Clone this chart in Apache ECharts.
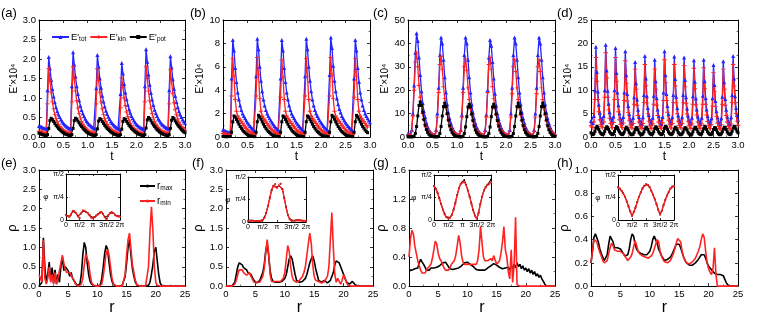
<!DOCTYPE html>
<html><head><meta charset="utf-8">
<script src="https://cdn.jsdelivr.net/npm/echarts@6/dist/echarts.min.js"></script>
<style>html,body{margin:0;padding:0;background:#fff}#c{width:764px;height:317px}</style>
</head><body><div id="c"></div>
<script>
// ---------- DATA ----------
const tStepABC = 0.025, tStepD = 0.02, rStep = 0.25, phiStep = 0.125;
const piLabelsX = ['0', 'π/2', 'π', '3π/2', '2π'];
const piLabelsY = ['0', 'π/4', 'π/2'];
const panelLabels = ['(a)', '(b)', '(c)', '(d)', '(e)', '(f)', '(g)', '(h)'];

const aTot = [0.28,0.27,0.26,0.24,0.23,0.22,0.21,1.2,2.05,1.76,1.47,1.23,1.04,0.89,0.76,0.66,0.58,0.51,0.45,0.4,0.35,0.32,0.29,0.26,0.24,0.22,0.21,
1.3,2.17,1.86,1.55,1.3,1.1,0.94,0.8,0.69,0.6,0.53,0.47,0.41,0.37,0.33,0.3,0.27,0.25,0.23,0.21,
1.25,2.1,1.8,1.5,1.26,1.06,0.91,0.78,0.67,0.59,0.52,0.46,0.4,0.36,0.32,0.29,0.26,0.24,0.22,0.2,
1.1,1.9,1.63,1.36,1.14,0.97,0.83,0.71,0.62,0.54,0.48,0.42,0.37,0.33,0.3,0.27,0.25,0.23,0.21,0.2,
1.3,2.25,1.93,1.6,1.34,1.13,0.96,0.82,0.7,0.61,0.54,0.47,0.42,0.37,0.33,0.3,0.27,0.25,0.23,0.21,
1.2,2.07,1.78,1.48,1.24,1.05,0.9,0.77,0.66,0.58,0.51,0.45,0.4,0.35];
const aKin = [0.15,0.14,0.13,0.12,0.11,0.1,0.09,0.85,1.75,1.45,1.15,0.9,0.72,0.58,0.47,0.39,0.32,0.27,0.23,0.2,0.17,0.15,0.13,0.12,0.11,0.1,0.09,
0.9,1.8,1.5,1.18,0.93,0.74,0.6,0.49,0.4,0.33,0.28,0.24,0.2,0.17,0.15,0.13,0.12,0.11,0.1,0.09,
0.85,1.75,1.45,1.15,0.9,0.72,0.58,0.47,0.39,0.32,0.27,0.23,0.2,0.17,0.15,0.13,0.12,0.11,0.1,0.09,
0.75,1.52,1.27,1.0,0.8,0.64,0.52,0.43,0.35,0.29,0.25,0.21,0.18,0.16,0.14,0.12,0.11,0.1,0.09,0.08,
0.9,1.8,1.5,1.18,0.93,0.74,0.6,0.49,0.4,0.33,0.28,0.24,0.2,0.17,0.15,0.13,0.12,0.11,0.1,0.09,
0.85,1.72,1.42,1.12,0.88,0.7,0.57,0.46,0.38,0.32,0.27,0.23,0.2,0.17];
const aPot = [0.1,0.09,0.07,0.06,0.05,0.04,0.04,0.06,0.22,0.42,0.48,0.45,0.4,0.35,0.3,0.26,0.22,0.19,0.16,0.13,0.11,0.09,0.07,0.06,0.05,0.04,0.04,
0.06,0.22,0.42,0.48,0.46,0.41,0.36,0.31,0.27,0.23,0.19,0.16,0.13,0.11,0.09,0.07,0.06,0.05,0.04,0.04,
0.06,0.21,0.41,0.47,0.45,0.4,0.35,0.3,0.26,0.22,0.19,0.16,0.13,0.11,0.09,0.07,0.06,0.05,0.04,0.04,
0.06,0.2,0.4,0.47,0.45,0.4,0.35,0.3,0.26,0.22,0.19,0.16,0.13,0.11,0.09,0.07,0.06,0.05,0.04,0.04,
0.06,0.23,0.44,0.5,0.47,0.42,0.36,0.31,0.27,0.23,0.19,0.16,0.13,0.11,0.09,0.07,0.06,0.05,0.04,0.04,
0.06,0.22,0.43,0.5,0.47,0.41,0.36,0.31,0.27,0.23,0.19,0.16,0.13,0.11];

const bTot = [0.6,0.55,0.5,0.45,0.42,0.4,0.4,5.0,8.3,7.4,5.9,4.7,3.8,3.2,2.7,2.3,2.0,1.8,1.6,1.4,1.25,1.1,0.95,0.82,0.7,0.6,0.5,
5.2,8.4,7.5,6.0,4.8,3.9,3.2,2.7,2.3,2.0,1.8,1.6,1.4,1.25,1.1,0.95,0.82,0.7,0.6,0.5,
5.0,8.3,7.4,5.9,4.7,3.8,3.2,2.7,2.3,2.0,1.8,1.6,1.4,1.25,1.1,0.95,0.82,0.7,0.6,0.5,
5.2,8.4,7.5,6.0,4.8,3.9,3.2,2.7,2.3,2.0,1.8,1.6,1.4,1.25,1.1,0.95,0.82,0.7,0.6,0.5,
5.3,8.5,7.6,6.1,4.8,3.9,3.3,2.8,2.4,2.1,1.8,1.6,1.4,1.25,1.1,0.95,0.82,0.7,0.6,0.5,
5.0,8.3,7.4,5.9,4.7,3.8,3.2,2.7,2.3,2.0,1.8,1.6,1.4,1.25];
const bKin = [0.3,0.27,0.24,0.21,0.19,0.17,0.2,3.5,6.7,5.2,3.2,2.2,1.8,1.6,1.45,1.3,1.15,1.0,0.85,0.72,0.6,0.5,0.42,0.35,0.3,0.25,0.22,
3.5,6.8,5.3,3.3,2.2,1.8,1.6,1.45,1.3,1.15,1.0,0.85,0.72,0.6,0.5,0.42,0.35,0.3,0.25,0.22,
3.4,6.6,5.1,3.2,2.2,1.8,1.6,1.45,1.3,1.15,1.0,0.85,0.72,0.6,0.5,0.42,0.35,0.3,0.25,0.22,
3.5,6.7,5.2,3.2,2.2,1.8,1.6,1.45,1.3,1.15,1.0,0.85,0.72,0.6,0.5,0.42,0.35,0.3,0.25,0.22,
3.5,6.8,5.3,3.3,2.2,1.8,1.6,1.45,1.3,1.15,1.0,0.85,0.72,0.6,0.5,0.42,0.35,0.3,0.25,0.22,
3.4,6.7,5.2,3.2,2.2,1.8,1.6,1.45,1.3,1.15,1.0,0.85];
const bPot = [0.05,0.04,0.03,0.03,0.03,0.04,0.05,0.4,1.3,1.8,1.7,1.5,1.3,1.1,0.9,0.75,0.6,0.47,0.37,0.28,0.2,0.14,0.1,0.07,0.05,0.04,0.03,
0.4,1.3,1.85,1.72,1.52,1.3,1.1,0.9,0.75,0.6,0.47,0.37,0.28,0.2,0.14,0.1,0.07,0.05,0.04,0.03,
0.4,1.3,1.8,1.7,1.5,1.3,1.1,0.9,0.75,0.6,0.47,0.37,0.28,0.2,0.14,0.1,0.07,0.05,0.04,0.03,
0.4,1.3,1.8,1.7,1.5,1.3,1.1,0.9,0.75,0.6,0.47,0.37,0.28,0.2,0.14,0.1,0.07,0.05,0.04,0.03,
0.4,1.3,1.85,1.72,1.52,1.3,1.1,0.9,0.75,0.6,0.47,0.37,0.28,0.2,0.14,0.1,0.07,0.05,0.04,0.03,
0.4,1.3,1.85,1.72,1.52,1.3,1.1,0.9,0.75,0.6,0.47,0.37];

const cTot = [1.5,1.2,1.3,3,10,22,36,44.3,41,34,26.5,19.5,14.5,11,8.5,6.2,4.5,3.2,2.3,1.7,1.3,1.0,0.9,
3,10,21,35,42.5,40,33,25.5,19,14,10.5,8,6,4.3,3.1,2.2,1.6,1.2,1.0,0.9,
3,9.5,21,35,42.5,40,33,25.5,19,14,10.5,8,6,4.3,3.1,2.2,1.6,1.2,1.0,0.9,
3,9.5,20,34,41.5,39,32,25,18.5,13.5,10,7.8,5.8,4.2,3.0,2.1,1.5,1.2,1.0,0.9,
3,10,21,35,42.5,40,33,25.5,19,14,10.5,8,6,4.3,3.1,2.2,1.6,1.2,1.0,0.9,
3,10,21,35,42.5,40,33,25.5,19,14,10.5,8,6,4.3,3.1,2.2,1.6,1.2];
const cKin = [0.8,0.6,0.7,2.5,9,20,32,36,30,22,17,13,10,7.5,5.5,4,3,2.2,1.6,1.2,0.9,0.7,0.6,
2.5,8.5,19,31,34.5,29,21.5,16.5,12.5,9.7,7.3,5.4,4,3,2.2,1.6,1.2,0.9,0.7,0.6,
2.5,8.5,19,30,33.5,28.5,21,16,12,9.5,7.2,5.3,3.9,2.9,2.1,1.6,1.2,0.9,0.7,0.6,
2.5,8.5,19,31,34,29,21.5,16.5,12.5,9.6,7.3,5.4,4,3,2.2,1.6,1.2,0.9,0.7,0.6,
2.5,8.5,18.5,30,33,28,21,16,12,9.4,7.1,5.3,3.9,2.9,2.1,1.6,1.2,0.9,0.7,0.6,
2.5,8.5,18.5,30,33,28,21,16,12,9.4,7.1,5.3,3.9,2.9,2.1,1.6,1.2,0.9];
const cPot = [0.1,0.1,0.1,0.1,0.1,0.3,1.5,4.5,9,13.5,15,13.5,10.5,7.5,5,3.2,2,1.2,0.7,0.4,0.25,0.15,0.1,
0.1,0.1,0.3,1.5,4.5,9,13,14.5,13,10,7.2,4.8,3.1,1.9,1.2,0.7,0.4,0.25,0.15,0.1,
0.1,0.1,0.3,1.5,4.3,8.7,12.8,14,12.8,9.8,7,4.7,3,1.9,1.2,0.7,0.4,0.25,0.15,0.1,
0.1,0.1,0.3,1.5,4.3,8.7,12.8,14,12.8,9.8,7,4.7,3,1.9,1.2,0.7,0.4,0.25,0.15,0.1,
0.1,0.1,0.3,1.5,4.5,9,13,14.5,13,10,7.2,4.8,3.1,1.9,1.2,0.7,0.4,0.25,0.15,0.1,
0.1,0.1,0.3,1.5,4.5,9,13,14.5,13,10,7.2,4.8,3.1,1.9,1.2,0.7,0.4,0.25];

const dTot = [3.4,
3.1,3.0,4.5,10,19.3,13.9,9.7,6.9,5.2,4.0,
3.3,3.1,4.5,10,19.7,14.2,9.9,7.1,5.3,4.1,
3.3,3.1,4.4,10,19.0,13.7,9.5,6.8,5.1,4.0,
3.2,3.0,4.3,9.5,18.3,13.2,9.2,6.6,4.9,3.8,
3.1,2.9,4.1,8.5,16.0,11.5,8.0,5.8,4.3,3.4,
2.9,2.8,4.2,9,17.3,12.5,8.7,6.2,4.7,3.7,
3.0,2.9,4.1,8.8,16.5,11.9,8.3,5.9,4.5,3.5,
2.9,2.8,4.3,9.5,18.3,13.2,9.2,6.6,4.9,3.8,
3.1,3.0,4.2,9,17.2,12.4,8.6,6.2,4.6,3.6,
3.0,2.9,4.2,9,17.0,12.2,8.5,6.1,4.6,3.6,
3.0,2.9,4.1,8.7,16.4,11.8,8.2,5.9,4.4,3.5,
2.9,2.8,4.1,8.8,16.5,11.9,8.3,5.9,4.5,3.5,
2.9,2.8,4.0,8.3,15.4,11.1,7.7,5.5,4.2,3.3,
2.8,2.7,4.0,8.6,16.2,11.7,8.1,5.8,4.4,3.4,
2.8,2.7,4.2,9,17.3,12.5,8.7,6.2,4.7,3.7];
const dKin = [2.4,
2.1,2.0,3.2,8,17.0,11.9,8.0,5.4,3.7,2.7,
2.2,2.0,3.2,8.5,18.0,12.6,8.5,5.8,4.0,2.9,
2.1,2.0,3.1,8,17.0,11.9,8.0,5.4,3.7,2.7,
2.1,2.0,3.0,7.8,16.3,11.4,7.7,5.2,3.6,2.6,
2.0,1.9,2.9,7,14.5,10.2,6.8,4.6,3.2,2.3,
1.9,1.8,2.9,7.4,15.5,10.9,7.3,5.0,3.4,2.5,
1.9,1.8,2.8,7,14.5,10.2,6.8,4.6,3.2,2.3,
1.9,1.8,3.0,7.8,16.5,11.6,7.8,5.3,3.6,2.6,
2.0,1.9,2.9,7.4,15.5,10.9,7.3,5.0,3.4,2.5,
2.0,1.9,2.9,7.3,15.3,10.7,7.2,4.9,3.4,2.5,
1.9,1.8,2.8,7,14.7,10.3,6.9,4.7,3.2,2.4,
1.9,1.8,2.8,7,14.8,10.4,7.0,4.7,3.3,2.4,
1.9,1.8,2.7,6.6,13.8,9.7,6.5,4.4,3.0,2.2,
1.8,1.7,2.7,7,14.5,10.2,6.8,4.6,3.2,2.3,
1.8,1.7,2.8,7.4,15.5,10.9,7.3,5.0,3.4,2.5];
const dPot = [0.9,
0.6,0.5,0.7,1.2,1.9,2.3,2.1,1.6,1.1,0.8,
0.6,0.5,0.7,1.2,1.8,2.2,2.0,1.6,1.1,0.8,
0.6,0.5,0.7,1.2,1.8,2.2,2.0,1.5,1.1,0.8,
0.6,0.5,0.7,1.1,1.7,2.1,1.9,1.5,1.0,0.7,
0.5,0.5,0.6,1.0,1.6,2.0,1.9,1.5,1.0,0.7,
0.5,0.5,0.7,1.1,1.7,2.1,2.0,1.6,1.1,0.8,
0.6,0.5,0.7,1.1,1.8,2.2,2.0,1.6,1.1,0.8,
0.6,0.5,0.7,1.2,1.9,2.3,2.1,1.6,1.1,0.8,
0.6,0.5,0.7,1.1,1.7,2.1,1.9,1.5,1.0,0.7,
0.5,0.5,0.7,1.1,1.7,2.0,1.9,1.5,1.0,0.7,
0.5,0.4,0.6,1.1,1.7,2.1,2.0,1.6,1.1,0.8,
0.6,0.5,0.7,1.2,1.8,2.3,2.1,1.6,1.1,0.8,
0.6,0.5,0.6,1.0,1.6,2.0,1.9,1.5,1.0,0.7,
0.5,0.5,0.7,1.1,1.7,2.1,2.0,1.6,1.1,0.8,
0.6,0.5,0.7,1.2,1.9,2.3,2.2,1.7,1.2,0.9];

const eMax = [0,0,0.1,1.25,0.5,0.08,0.3,0.62,0.15,0.48,
0.08,0.42,0.05,0.3,0.1,0.5,0.75,0.4,0.5,0.45,
0.4,0.25,0.35,0.2,0.22,0.08,0.02,0,0.05,0.3,
0.8,1.13,1.0,0.6,0.3,0.12,0.05,0.02,0,0,
0,0.01,0.03,0.2,0.5,0.85,1.05,0.95,0.6,0.3,
0.12,0.04,0,0,0,0,0,0.02,0.05,0.25,
0.6,1.0,1.2,0.8,0.45,0.25,0.1,0.03,0,0,
0,0,0,0,0,0.02,0.1,0.3,0.55,0.9,
1.0,0.65,0.3,0.08,0.02,0,0,0,0,0,
0,0,0,0,0,0,0,0,0,0,0];
const eMin = [0.3,0.32,0.1,1.2,0.2,0.05,0.2,0.5,0.1,0.3,
0.05,0.35,0.05,0.2,0.15,0.6,0.8,0.6,0.42,0.35,
0.3,0.35,0.28,0.25,0.15,0.05,0.02,0,0,0.05,
0.2,0.55,0.82,0.85,0.6,0.3,0.1,0.03,0,0,
0,0,0,0.05,0.25,0.55,0.85,0.95,0.8,0.5,
0.2,0.06,0.01,0,0,0,0,0,0.03,0.3,
0.8,1.2,1.37,0.95,0.55,0.35,0.15,0.04,0,0,
0,0,0,0,0.05,0.5,1.4,2.05,1.45,0.5,
0.1,0.02,0,0,0,0,0,0,0,0,
0,0,0,0,0,0,0,0,0,0,0];
const fMax = [0,0,0,0,0,0.02,0.1,0.3,0.5,0.6,
0.62,0.55,0.48,0.45,0.42,0.35,0.3,0.3,0.22,0.15,
0.1,0.08,0.1,0.15,0.25,0.35,0.55,0.9,1.1,0.8,
0.4,0.2,0.12,0.1,0.1,0.1,0.1,0.1,0.12,0.15,
0.2,0.3,0.5,0.7,0.78,0.7,0.5,0.3,0.15,0.12,
0.1,0.1,0.12,0.15,0.2,0.3,0.45,0.6,0.7,0.78,
0.65,0.45,0.3,0.15,0.1,0.1,0.12,0.15,0.1,0.08,
0.1,0.15,0.25,0.35,0.55,0.65,0.65,0.6,0.5,0.4,
0.3,0.2,0.1,0.05,0.05,0.1,0.12,0.08,0.03,0.01,
0,0,0,0,0,0,0,0,0,0,0];
const fMin = [0,0,0,0,0,0.01,0.05,0.15,0.3,0.42,
0.45,0.42,0.35,0.3,0.28,0.3,0.35,0.25,0.2,0.1,
0.08,0.1,0.08,0.1,0.15,0.25,0.45,0.85,1.2,0.85,
0.3,0.12,0.1,0.12,0.1,0.12,0.1,0.12,0.15,0.2,
0.35,0.7,1.05,0.9,0.5,0.25,0.15,0.12,0.1,0.12,
0.15,0.2,0.25,0.35,0.5,0.8,1.1,1.37,1.1,0.55,
0.25,0.15,0.1,0.12,0.1,0.08,0.1,0.12,0.15,0.25,
0.5,1.2,1.9,1.0,0.3,0.1,0.2,0.25,0.05,0.15,
0.3,0.35,0.1,0.02,0,0,0,0,0,0,
0,0,0,0,0,0,0,0,0,0,0];
const gMax = [0.22,0.2,0.22,0.21,0.24,0.22,0.25,0.32,0.37,0.33,
0.3,0.26,0.22,0.24,0.22,0.25,0.23,0.25,0.24,0.26,
0.25,0.28,0.3,0.32,0.34,0.33,0.3,0.27,0.24,0.25,
0.23,0.25,0.24,0.26,0.25,0.27,0.28,0.3,0.32,0.33,
0.33,0.31,0.3,0.28,0.27,0.25,0.23,0.22,0.22,0.23,
0.22,0.24,0.22,0.24,0.25,0.27,0.28,0.3,0.31,0.3,
0.29,0.27,0.26,0.25,0.24,0.22,0.25,0.23,0.26,0.22,
0.28,0.24,0.3,0.25,0.32,0.27,0.3,0.24,0.28,0.22,
0.25,0.2,0.24,0.18,0.22,0.16,0.2,0.14,0.17,0.12,
0.15,0.1,0.08,0.03,0,0,0,0,0,0,0];
const gMin = [0.4,0.65,0.77,0.72,0.55,0.45,0.35,0.28,0.22,0.18,
0.16,0.18,0.22,0.25,0.27,0.3,0.38,0.5,0.62,0.58,
0.45,0.38,0.35,0.3,0.25,0.22,0.2,0.22,0.25,0.3,
0.32,0.35,0.42,0.55,0.7,0.6,0.42,0.33,0.3,0.28,
0.3,0.3,0.3,0.28,0.3,0.28,0.3,0.35,0.5,0.82,
0.6,0.4,0.35,0.33,0.35,0.33,0.38,0.35,0.42,0.4,
0.3,0.3,0.35,0.45,0.6,0.82,0.5,0.4,0.2,0.1,
0.5,0.05,0.3,0.95,0.02,0,0,0,0,0,
0,0,0,0,0,0,0,0,0,0,
0,0,0,0,0,0,0,0,0,0,0];
const hMax = [0.2,0.3,0.42,0.45,0.44,0.38,0.32,0.28,0.25,0.22,
0.22,0.27,0.36,0.43,0.44,0.38,0.33,0.32,0.33,0.33,
0.32,0.3,0.28,0.26,0.25,0.27,0.32,0.4,0.45,0.43,
0.36,0.32,0.3,0.29,0.28,0.27,0.27,0.26,0.27,0.28,
0.3,0.34,0.4,0.43,0.42,0.37,0.32,0.29,0.26,0.24,
0.22,0.22,0.23,0.24,0.25,0.27,0.3,0.33,0.36,0.37,
0.36,0.33,0.29,0.25,0.22,0.2,0.19,0.18,0.18,0.18,
0.19,0.2,0.21,0.23,0.25,0.27,0.28,0.27,0.24,0.2,
0.17,0.16,0.14,0.13,0.11,0.12,0.1,0.1,0.1,0.1,
0.09,0.06,0.03,0.01,0,0,0,0,0,0,0];
const hMin = [0.2,0.3,0.4,0.41,0.38,0.33,0.29,0.26,0.22,0.2,
0.2,0.22,0.28,0.33,0.37,0.35,0.31,0.3,0.3,0.31,
0.3,0.29,0.28,0.26,0.24,0.22,0.23,0.25,0.28,0.34,
0.39,0.35,0.3,0.28,0.27,0.26,0.25,0.25,0.24,0.24,
0.25,0.26,0.28,0.32,0.36,0.4,0.38,0.3,0.26,0.23,
0.21,0.2,0.2,0.21,0.22,0.25,0.28,0.32,0.37,0.41,
0.42,0.38,0.3,0.25,0.22,0.2,0.19,0.19,0.2,0.21,
0.22,0.24,0.27,0.3,0.34,0.4,0.45,0.42,0.3,0.2,
0.15,0.12,0.1,0.15,0.33,0.1,0,0,0,0,
0,0,0,0,0,0,0,0,0,0,0];

// insets: x in units of pi/2, y in units of pi/4
const ieMax = [0.22,0.18,0.15,0.24,0.38,0.37,0.3,0.17,0.1,0.28,0.4,0.39,0.34,0.3,0.21,0.12,0.08,0.13,0.2,0.26,0.32,0.34,0.26,0.13,0.05,0.19,0.29,0.34,0.3,0.23,0.18,0.16,0.16];
const ieMin = [0.2,0.17,0.14,0.25,0.4,0.38,0.3,0.15,0.08,0.3,0.42,0.4,0.35,0.3,0.2,0.1,0.07,0.12,0.2,0.25,0.33,0.35,0.25,0.12,0.03,0.2,0.3,0.35,0.3,0.22,0.17,0.15,0.15];
const ifMax = [0.06,0.06,0.07,0.06,0.05,0.05,0.05,0.06,0.09,0.2,0.4,0.72,1.07,1.42,1.62,1.68,1.54,1.63,1.7,1.47,1.07,0.67,0.32,0.13,0.07,0.06,0.07,0.08,0.08,0.07,0.06,0.06,0.05];
const ifMin = [0.05,0.06,0.06,0.05,0.05,0.04,0.04,0.05,0.08,0.18,0.38,0.7,1.05,1.4,1.6,1.67,1.52,1.62,1.7,1.45,1.05,0.65,0.3,0.12,0.06,0.05,0.06,0.07,0.08,0.07,0.06,0.05,0.05];
const igMax = [1.52,1.4,1.22,0.97,0.72,0.47,0.27,0.13,0.08,0.11,0.24,0.47,0.77,1.12,1.42,1.62,1.7,1.78,1.57,1.32,1.05,0.74,0.44,0.2,0.07,0.32,0.72,1.05,1.32,1.47,1.57,1.62,1.8];
const igMin = [1.5,1.38,1.2,0.95,0.7,0.45,0.25,0.12,0.07,0.1,0.22,0.45,0.75,1.1,1.4,1.6,1.68,1.7,1.55,1.3,1.03,0.72,0.42,0.18,0.06,0.3,0.7,1.03,1.3,1.45,1.55,1.6,1.68];
const ihMax = [1.46,1.41,1.31,1.19,1.04,0.83,0.61,0.39,0.18,0.36,0.56,0.81,1.04,1.23,1.41,1.53,1.59,1.57,1.48,1.31,1.13,0.93,0.71,0.46,0.25,0.41,0.66,0.89,1.09,1.26,1.41,1.49,1.51];
const ihMin = [1.45,1.4,1.3,1.18,1.03,0.82,0.6,0.38,0.17,0.35,0.55,0.8,1.03,1.22,1.4,1.52,1.58,1.56,1.47,1.3,1.12,0.92,0.7,0.45,0.24,0.4,0.65,0.88,1.08,1.25,1.4,1.48,1.5];

// ---------- BUILD ----------
const F = "'Liberation Sans', Arial, sans-serif";
const BLUE = '#2424ff', RED = '#ff2222', BLACK = '#000000';
const grids = [], xAxes = [], yAxes = [], series = [];

function addAxes(list, g, r, isX) {
  const common = {
    type: 'value', gridIndex: g, min: r.min, max: r.max, interval: r.interval,
    splitLine: {show: false},
    axisLine: {show: true, onZero: false, lineStyle: {color: '#000', width: 1}},
    axisTick: {show: true, inside: true, length: r.tick, lineStyle: {color: '#000', width: 0.8}},
    minorTick: {show: !!r.minor, splitNumber: 2, length: Math.max(1, r.tick - 1.5), lineStyle: {color: '#000', width: 0.6}}
  };
  const idx = list.length;
  const main = Object.assign({}, common, {
    position: isX ? 'bottom' : 'left',
    axisLabel: {show: true, color: '#000', fontFamily: F, fontSize: r.fs, margin: r.margin, formatter: r.fmt},
    name: r.name || '', nameLocation: 'middle', nameGap: r.gap || 0,
    nameTextStyle: Object.assign({color: '#000', fontFamily: F}, r.nts || {})
  });
  if (r.nameRotate !== undefined) main.nameRotate = r.nameRotate;
  list.push(main);
  list.push(Object.assign({}, common, {position: isX ? 'top' : 'right', axisLabel: {show: false}}));
  return idx;
}
function panel(box, xr, yr, bg) {
  const g = grids.length;
  const gr = {left: box[0], top: box[1], width: box[2], height: box[3], show: !!bg, borderWidth: 0};
  if (bg) gr.backgroundColor = bg;
  grids.push(gr);
  return {xi: addAxes(xAxes, g, xr, true), yi: addAxes(yAxes, g, yr, false)};
}
function line(p, arr, step, st) {
  series.push(Object.assign({
    type: 'line', xAxisIndex: p.xi, yAxisIndex: p.yi,
    data: arr.map((v, i) => [i * step, v]), animation: false, silent: true, showAllSymbol: true
  }, st));
}

const fmt1 = v => v.toFixed(1);
const fmt0 = v => String(v);
const tX = {min: 0, max: 3, interval: 0.5, fmt: fmt1, name: 't', gap: 9, nts: {fontSize: 12}, fs: 9.5, margin: 3, tick: 3, minor: true};
const rX = {min: 0, max: 25, interval: 5, fmt: fmt0, name: 'r', gap: 6, nts: {fontSize: 16}, fs: 9.5, margin: 3, tick: 3, minor: true};
const eName = "E′×10⁴";
const yE = (max, iv, fmt, gap) => ({min: 0, max: max, interval: iv, fmt: fmt, name: eName, gap: gap, nts: {fontSize: 10}, fs: 9.5, margin: 3, tick: 3, minor: true});
const yR = (max, iv, gap) => ({min: 0, max: max, interval: iv, fmt: fmt1, name: 'ρ', gap: gap, nts: {fontSize: 13}, fs: 9.5, margin: 3, tick: 3, minor: true});
const inX = {min: 0, max: 4, interval: 1, fmt: v => piLabelsX[v], fs: 7, margin: 2, tick: 2};
const inY = {min: 0, max: 2, interval: 1, fmt: v => piLabelsY[v], name: 'φ', gap: 13, nameRotate: 0, nts: {fontSize: 8}, fs: 7, margin: 2, tick: 2};

const stTot = n => ({name: n, symbol: 'triangle', symbolSize: 4, lineStyle: {color: BLUE, width: 1.3}, itemStyle: {color: BLUE}});
const stKin = n => ({name: n, symbol: 'path://M2,0H3V2H5V3H3V5H2V3H0V2H2Z', symbolSize: 4.5, lineStyle: {color: RED, width: 1.3}, itemStyle: {color: RED}});
const stPot = n => ({name: n, symbol: 'rect', symbolSize: 3, lineStyle: {color: BLACK, width: 1.3}, itemStyle: {color: BLACK}});
const stMax = n => ({name: n, symbol: 'none', lineStyle: {color: BLACK, width: 1.6}, itemStyle: {color: BLACK}});
const stMin = n => ({name: n, symbol: 'none', lineStyle: {color: RED, width: 1.6}, itemStyle: {color: RED}});
const stInMax = {symbol: 'circle', symbolSize: 1.8, lineStyle: {color: BLACK, width: 1}, itemStyle: {color: BLACK}};
const stInMin = {symbol: 'rect', symbolSize: 1.8, lineStyle: {color: RED, width: 1.4}, itemStyle: {color: RED}};

// top row
const pa = panel([39, 20, 146, 117], tX, yE(3, 0.5, fmt1, 16));
const pb = panel([223, 20, 147, 117], tX, yE(10, 2, fmt0, 12));
const pc = panel([408, 20, 147, 117], tX, yE(50, 10, fmt0, 17));
const pd = panel([591, 20, 147, 117], tX, yE(25, 5, fmt0, 12));
[[pa, aTot, aKin, aPot, tStepABC, ''], [pb, bTot, bKin, bPot, tStepABC, 'b'], [pc, cTot, cKin, cPot, tStepABC, 'c'], [pd, dTot, dKin, dPot, tStepD, 'd']]
  .forEach(([p, T, K, P, s, k]) => {
    line(p, T, s, stTot('tot' + k));
    line(p, K, s, stKin('kin' + k));
    line(p, P, s, stPot('pot' + k));
  });

// bottom row
const pe = panel([39, 170, 146, 117], rX, yR(3, 0.5, 20));
const pf = panel([226, 170, 147, 117], rX, yR(3, 0.5, 21));
const pg = panel([409, 170, 146, 117], rX, yR(1.6, 0.4, 21));
const ph = panel([591, 170, 147, 117], rX, yR(1.0, 0.2, 17));
[[pe, eMax, eMin, ''], [pf, fMax, fMin, 'f'], [pg, gMax, gMin, 'g'], [ph, hMax, hMin, 'h']]
  .forEach(([p, M, N, k]) => {
    line(p, M, rStep, stMax('max' + k));
    line(p, N, rStep, stMin('min' + k));
  });

// insets
const ie = panel([66, 174, 54, 46], inX, inY, '#fff');
const iF = panel([248, 177, 58, 45], inX, inY, '#fff');
const ig = panel([434, 175, 57, 45], inX, inY, '#fff');
const ih = panel([618, 175, 56, 45], inX, inY, '#fff');
[[ie, ieMax, ieMin], [iF, ifMax, ifMin], [ig, igMax, igMin], [ih, ihMax, ihMin]].forEach(([p, M, N]) => {
  line(p, M, phiStep, stInMax);
  line(p, N, phiStep, stInMin);
});

const labelPos = [[1, 7], [190, 7], [373, 7], [557, 7], [1, 157], [192, 157], [373, 157], [557, 157]];
const graphic = panelLabels.map((t, i) => ({
  type: 'text', left: labelPos[i][0], top: labelPos[i][1],
  style: {text: t, font: "13px 'Liberation Sans', Arial, sans-serif", fill: '#000'}
}));

const option = {
  backgroundColor: '#fff',
  animation: false,
  grid: grids, xAxis: xAxes, yAxis: yAxes, series: series, graphic: graphic,
  legend: [{
    data: ['tot', 'kin', 'pot'], left: 46, top: 27, itemGap: 3, itemWidth: 17, itemHeight: 5,
    selectedMode: false,
    formatter: n => '{e|E′}{s|' + n + '}',
    textStyle: {padding: [0, 0, 0, -3], rich: {
      e: {fontSize: 9.5, fontFamily: F, color: '#000'},
      s: {fontSize: 6.5, fontFamily: F, color: '#000', padding: [5, 0, 0, 0]}
    }}
  }, {
    data: ['max', 'min'], left: 134, top: 176, orient: 'vertical', itemGap: 4, itemWidth: 15, itemHeight: 4,
    selectedMode: false,
    formatter: n => '{e|r}{s|' + n + '}',
    textStyle: {padding: [0, 0, 0, -3], rich: {
      e: {fontSize: 10, fontFamily: F, color: '#000'},
      s: {fontSize: 6.5, fontFamily: F, color: '#000', padding: [5, 0, 0, 0]}
    }}
  }]
};
const chart = echarts.init(document.getElementById('c'), null, {renderer: 'canvas'});
chart.setOption(option);
</script></body></html>
